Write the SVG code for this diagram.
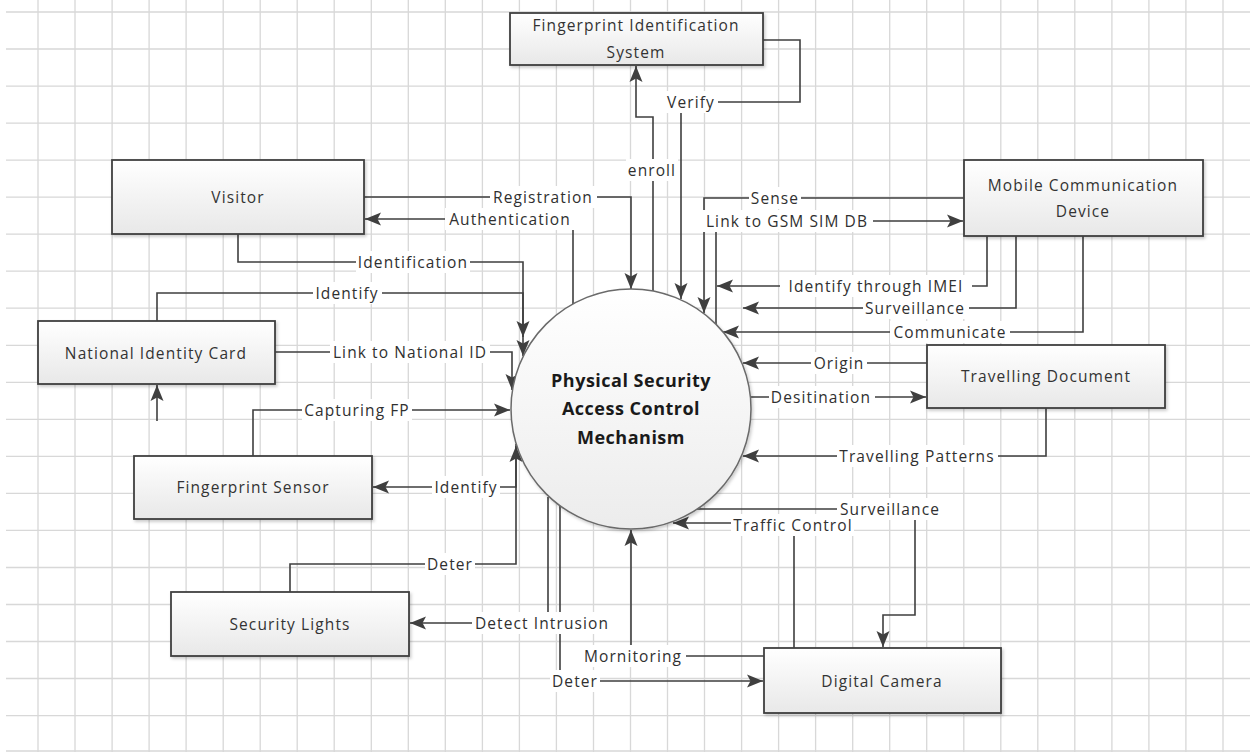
<svg xmlns="http://www.w3.org/2000/svg" width="1250" height="752" viewBox="0 0 1250 752">
  <style>
    .grid { stroke: #d8d8d8; stroke-width: 1.3; fill: none; }
    .box { fill: url(#boxFill); stroke: #404040; stroke-width: 1.8; filter: url(#shadow); }
    .hub { fill: url(#hubFill); stroke: #6a6a6a; stroke-width: 1.5; filter: url(#shadow); }
    .node-text { font-family: "Open Sans", "Liberation Sans", sans-serif; font-size: 15.5px; letter-spacing: 1.1px; fill: #333333; text-anchor: middle; dominant-baseline: central; }
    .hub-text { font-family: "Open Sans", "Liberation Sans", sans-serif; font-size: 18px; font-weight: bold; letter-spacing: 0.5px; fill: #1a1a1a; text-anchor: middle; dominant-baseline: central; }
    .conn { fill: none; stroke: #3f3f3f; stroke-width: 1.6; }
    .arrow { marker-end: url(#arrowHead); }
    .lbl-bg { fill: #ffffff; }
    .lbl { font-family: "Open Sans", "Liberation Sans", sans-serif; font-size: 15.5px; letter-spacing: 1.1px; fill: #303030; text-anchor: middle; dominant-baseline: central; }
  </style>
  <defs>
    <linearGradient id="boxFill" x1="0" y1="0" x2="0" y2="1">
      <stop offset="0" stop-color="#ffffff"/>
      <stop offset="1" stop-color="#e8e8e8"/>
    </linearGradient>
    <linearGradient id="hubFill" x1="0" y1="0" x2="0" y2="1">
      <stop offset="0" stop-color="#ffffff"/>
      <stop offset="1" stop-color="#ececec"/>
    </linearGradient>
    <filter id="shadow" x="-10%" y="-10%" width="130%" height="130%">
      <feDropShadow dx="1.5" dy="2" stdDeviation="1.4" flood-color="#000000" flood-opacity="0.2"/>
    </filter>
    <marker id="arrowHead" viewBox="0 0 16 16" refX="16" refY="8" markerWidth="16" markerHeight="16" markerUnits="userSpaceOnUse" orient="auto">
      <path d="M0,1.5 L16,8 L0,14.5 L3.5,8 z" fill="#3f3f3f"/>
    </marker>
  </defs>

  <rect x="0" y="0" width="1250" height="752" fill="#ffffff"/>

  <!-- background grid -->
  <g id="grid">
    <path class="grid" d="M38,0V752 M75,0V752 M112.1,0V752 M149.1,0V752 M186.1,0V752 M223.2,0V752 M260.2,0V752 M297.2,0V752 M334.2,0V752 M371.3,0V752 M408.3,0V752 M445.3,0V752 M482.4,0V752 M519.4,0V752 M556.4,0V752 M593.5,0V752 M630.5,0V752 M667.5,0V752 M704.5,0V752 M741.6,0V752 M778.6,0V752 M815.6,0V752 M852.7,0V752 M889.7,0V752 M926.7,0V752 M963.8,0V752 M1000.8,0V752 M1037.8,0V752 M1074.8,0V752 M1111.9,0V752 M1148.9,0V752 M1185.9,0V752 M1223,0V752"/>
    <path class="grid" d="M6,12H1250 M6,49H1250 M6,86.1H1250 M6,123.1H1250 M6,160.1H1250 M6,197.2H1250 M6,234.2H1250 M6,271.2H1250 M6,308.2H1250 M6,345.3H1250 M6,382.3H1250 M6,419.3H1250 M6,456.4H1250 M6,493.4H1250 M6,530.4H1250 M6,567.5H1250 M6,604.5H1250 M6,641.5H1250 M6,678.5H1250 M6,715.6H1250 M6,751H1250"/>
  </g>

  <!-- data flows -->
  <g id="connectors">
    <path class="conn arrow" d="M364,197 H631 V289"/>
    <path class="conn arrow" d="M573,304 V219 H365"/>
    <path class="conn arrow" d="M238,234 V262 H523 V337"/>
    <path class="conn arrow" d="M157,321 V293 H523 V356"/>
    <path class="conn arrow" d="M275,352 H512 V390"/>
    <path class="conn arrow" d="M157,421 V385"/>
    <path class="conn arrow" d="M253,456 V410 H510"/>
    <path class="conn arrow" d="M516,444 V487 H373"/>
    <path class="conn arrow" d="M290,592 V564 H516 V446"/>
    <path class="conn arrow" d="M548,497 V623 H410"/>
    <path class="conn arrow" d="M560,505 V681 H763"/>
    <path class="conn arrow" d="M764,656 H631 V530"/>
    <path class="conn arrow" d="M794,648 V523 H673"/>
    <path class="conn arrow" d="M697,509 H915 V615 H883 V647"/>
    <path class="conn arrow" d="M1046,408 V456 H743"/>
    <path class="conn arrow" d="M751,397 H926"/>
    <path class="conn arrow" d="M927,363 H743"/>
    <path class="conn arrow" d="M1083,236 V332 H723"/>
    <path class="conn arrow" d="M1016,236 V308 H743"/>
    <path class="conn arrow" d="M987,236 V286 H717"/>
    <path class="conn arrow" d="M716,324 V221 H963"/>
    <path class="conn arrow" d="M964,198 H704 V313"/>
    <path class="conn arrow" d="M763,40 H800 V102 H681 V299"/>
    <path class="conn arrow" d="M653,291 V117 H636 V66"/>

    <!-- label backgrounds -->
    <g id="label-backgrounds">
      <rect class="lbl-bg" x="490" y="186" width="107" height="22"/>
      <rect class="lbl-bg" x="445" y="208" width="129" height="22"/>
      <rect class="lbl-bg" x="356" y="251" width="114" height="22"/>
      <rect class="lbl-bg" x="313" y="282" width="69" height="22"/>
      <rect class="lbl-bg" x="330" y="341" width="160" height="22"/>
      <rect class="lbl-bg" x="302" y="399" width="110" height="22"/>
      <rect class="lbl-bg" x="432" y="476" width="68" height="22"/>
      <rect class="lbl-bg" x="425" y="553" width="50" height="22"/>
      <rect class="lbl-bg" x="472" y="612" width="140" height="22"/>
      <rect class="lbl-bg" x="581" y="645" width="105" height="22"/>
      <rect class="lbl-bg" x="550" y="670" width="50" height="22"/>
      <rect class="lbl-bg" x="731" y="514" width="123" height="22"/>
      <rect class="lbl-bg" x="837" y="498" width="106" height="22"/>
      <rect class="lbl-bg" x="837" y="445" width="161" height="22"/>
      <rect class="lbl-bg" x="769" y="386" width="106" height="22"/>
      <rect class="lbl-bg" x="811" y="352" width="56" height="22"/>
      <rect class="lbl-bg" x="890" y="321" width="120" height="22"/>
      <rect class="lbl-bg" x="863" y="297" width="106" height="22"/>
      <rect class="lbl-bg" x="780" y="275" width="192" height="22"/>
      <rect class="lbl-bg" x="700" y="210" width="173" height="22"/>
      <rect class="lbl-bg" x="749" y="187" width="52" height="22"/>
      <rect class="lbl-bg" x="665" y="91" width="53" height="22"/>
      <rect class="lbl-bg" x="626" y="159" width="52" height="22"/>
    </g>

    <!-- flow labels -->
    <g id="labels">
      <text class="lbl" x="543" y="197">Registration</text>
      <text class="lbl" x="510" y="219">Authentication</text>
      <text class="lbl" x="413" y="262">Identification</text>
      <text class="lbl" x="347" y="293">Identify</text>
      <text class="lbl" x="410" y="352">Link to National ID</text>
      <text class="lbl" x="357" y="410">Capturing FP</text>
      <text class="lbl" x="466" y="487">Identify</text>
      <text class="lbl" x="450" y="564">Deter</text>
      <text class="lbl" x="542" y="623">Detect Intrusion</text>
      <text class="lbl" x="633" y="656">Mornitoring</text>
      <text class="lbl" x="575" y="681">Deter</text>
      <text class="lbl" x="793" y="525">Traffic Control</text>
      <text class="lbl" x="890" y="509">Surveillance</text>
      <text class="lbl" x="917" y="456">Travelling Patterns</text>
      <text class="lbl" x="821" y="397">Desitination</text>
      <text class="lbl" x="839" y="363">Origin</text>
      <text class="lbl" x="950" y="332">Communicate</text>
      <text class="lbl" x="915" y="308">Surveillance</text>
      <text class="lbl" x="876" y="286">Identify through IMEI</text>
      <text class="lbl" x="787" y="221">Link to GSM SIM DB</text>
      <text class="lbl" x="775" y="198">Sense</text>
      <text class="lbl" x="691" y="102">Verify</text>
      <text class="lbl" x="652" y="170">enroll</text>
    </g>
  </g>

  <!-- central process -->
  <g id="node-pacm">
    <circle class="hub" cx="631" cy="409" r="120"/>
    <text class="hub-text" x="631" y="380">Physical Security</text>
    <text class="hub-text" x="631" y="408">Access Control</text>
    <text class="hub-text" x="631" y="437">Mechanism</text>
  </g>

  <!-- external entities -->
  <g id="node-fis">
    <rect class="box" x="510" y="13" width="253" height="52"/>
    <text class="node-text" x="636" y="25">Fingerprint Identification</text>
    <text class="node-text" x="636" y="52">System</text>
  </g>
  <g id="node-visitor">
    <rect class="box" x="112" y="160" width="252" height="74"/>
    <text class="node-text" x="238" y="197">Visitor</text>
  </g>
  <g id="node-nic">
    <rect class="box" x="38" y="321" width="237" height="63"/>
    <text class="node-text" x="156" y="353">National Identity Card</text>
  </g>
  <g id="node-mobile">
    <rect class="box" x="964" y="160" width="239" height="76"/>
    <text class="node-text" x="1083" y="185">Mobile Communication</text>
    <text class="node-text" x="1083" y="211">Device</text>
  </g>
  <g id="node-travel-doc">
    <rect class="box" x="927" y="345" width="238" height="63"/>
    <text class="node-text" x="1046" y="376">Travelling Document</text>
  </g>
  <g id="node-fp-sensor">
    <rect class="box" x="134" y="456" width="238" height="63"/>
    <text class="node-text" x="253" y="487">Fingerprint Sensor</text>
  </g>
  <g id="node-lights">
    <rect class="box" x="171" y="592" width="238" height="64"/>
    <text class="node-text" x="290" y="624">Security Lights</text>
  </g>
  <g id="node-camera">
    <rect class="box" x="764" y="648" width="237" height="65"/>
    <text class="node-text" x="882" y="681">Digital Camera</text>
  </g>
</svg>
